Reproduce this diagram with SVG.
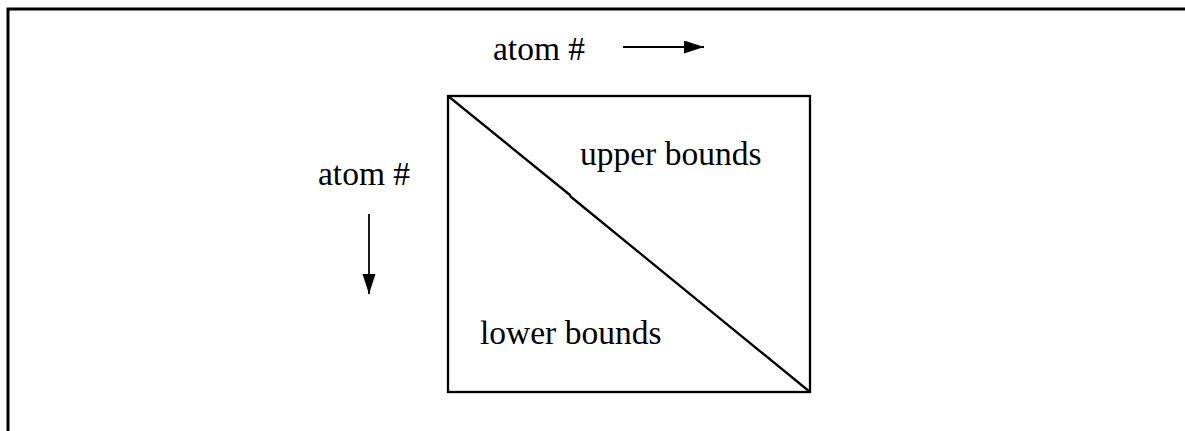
<svg xmlns="http://www.w3.org/2000/svg" width="1185" height="431" viewBox="0 0 1185 431">
<style>
.t{font-family:"Liberation Serif","Times New Roman",serif;font-size:33.5px;fill:#000}
.ln{stroke:#000;fill:none}
</style>
<defs>
<marker id="ah" markerUnits="userSpaceOnUse" markerWidth="22" markerHeight="14" refX="20" refY="6.5" orient="auto">
<path d="M0,0 L20,6.5 L0,13 Z" fill="#000"/>
</marker>
</defs>
<rect width="1185" height="431" fill="#fff"/>
<g id="frame">
<path class="ln" d="M8,431 L8,9 L1185,9" stroke-width="3"/>
</g>
<g id="matrix">
<rect class="ln" x="448" y="96" width="362" height="296" stroke-width="2.3"/>
<path class="ln" d="M448,96 L570,195 L570.5,196.5 L810,392" stroke-width="2.3" stroke-linejoin="round"/>
</g>
<g id="label-top"><text class="t" x="493" y="60">atom #</text></g>
<g id="label-left"><text class="t" x="318" y="185">atom #</text></g>
<g id="label-upper"><text class="t" x="580" y="165">upper bounds</text></g>
<g id="label-lower"><text class="t" x="480" y="344">lower bounds</text></g>
<g id="connectors">
<line class="ln" x1="623" y1="47" x2="704" y2="47" stroke-width="1.8" marker-end="url(#ah)"/>
<line class="ln" x1="369" y1="214" x2="369" y2="294" stroke-width="1.8" marker-end="url(#ah)"/>
</g>
</svg>
